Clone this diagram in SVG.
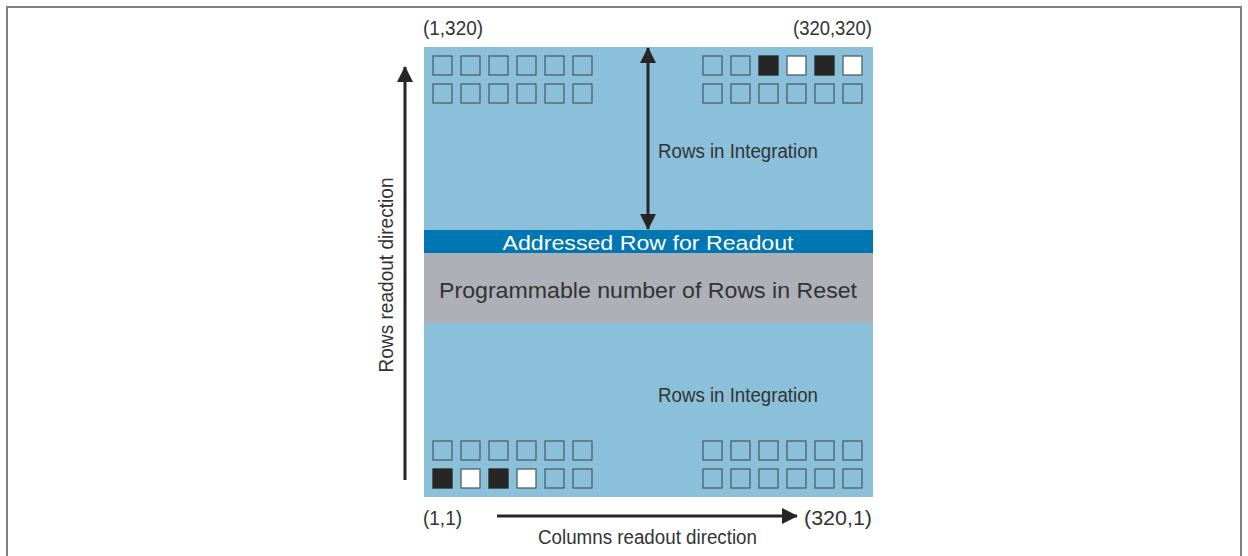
<svg xmlns="http://www.w3.org/2000/svg" width="1248" height="556" viewBox="0 0 1248 556">
<defs>
<style>
.t{font-family:"Liberation Sans",Arial,sans-serif;fill:#333333;}
.px{fill:none;stroke:#4f5f6b;stroke-width:1.3;}
.pb{fill:#262626;stroke:#262626;stroke-width:1.3;}
.pw{fill:#ffffff;stroke:#4f5f6b;stroke-width:1.3;}
.ar{stroke:#262626;stroke-width:3;fill:none;}
</style>
<marker id="ah" viewBox="0 0 16 16" refX="15" refY="8" markerWidth="16" markerHeight="16" markerUnits="userSpaceOnUse" orient="auto-start-reverse">
<path d="M0,0 L16,8 L0,16 Z" fill="#262626"/>
</marker>
</defs>
<rect width="1248" height="556" fill="#ffffff"/>
<path d="M7,556 V7 H1241 V556" fill="none" stroke="#808080" stroke-width="2"/>

<g id="sensor">
<rect x="424" y="47" width="449" height="450" fill="#8BC0DB"/>
</g>
<g id="addressed-row">
<rect x="424" y="230" width="449" height="23" fill="#0077B3"/>
<text class="t" x="648" y="250" font-size="20" text-anchor="middle" style="fill:#ffffff" textLength="291" lengthAdjust="spacingAndGlyphs">Addressed Row for Readout</text>
</g>
<g id="reset-rows">
<rect x="424" y="253" width="449" height="70" fill="#ADB0B6"/>
<text class="t" x="648" y="298" font-size="22" text-anchor="middle" textLength="418" lengthAdjust="spacingAndGlyphs">Programmable number of Rows in Reset</text>
</g>

<g id="pixels-top-left">
<rect class="px" x="433" y="56" width="19" height="19"/>
<rect class="px" x="461" y="56" width="19" height="19"/>
<rect class="px" x="489" y="56" width="19" height="19"/>
<rect class="px" x="517" y="56" width="19" height="19"/>
<rect class="px" x="545" y="56" width="19" height="19"/>
<rect class="px" x="573" y="56" width="19" height="19"/>
<rect class="px" x="433" y="84" width="19" height="19"/>
<rect class="px" x="461" y="84" width="19" height="19"/>
<rect class="px" x="489" y="84" width="19" height="19"/>
<rect class="px" x="517" y="84" width="19" height="19"/>
<rect class="px" x="545" y="84" width="19" height="19"/>
<rect class="px" x="573" y="84" width="19" height="19"/>
</g>
<g id="pixels-top-right">
<rect class="px" x="703" y="56" width="19" height="19"/>
<rect class="px" x="731" y="56" width="19" height="19"/>
<rect class="pb" x="759" y="56" width="19" height="19"/>
<rect class="pw" x="787" y="56" width="19" height="19"/>
<rect class="pb" x="815" y="56" width="19" height="19"/>
<rect class="pw" x="843" y="56" width="19" height="19"/>
<rect class="px" x="703" y="84" width="19" height="19"/>
<rect class="px" x="731" y="84" width="19" height="19"/>
<rect class="px" x="759" y="84" width="19" height="19"/>
<rect class="px" x="787" y="84" width="19" height="19"/>
<rect class="px" x="815" y="84" width="19" height="19"/>
<rect class="px" x="843" y="84" width="19" height="19"/>
</g>
<g id="pixels-bottom-left">
<rect class="px" x="433" y="441" width="19" height="19"/>
<rect class="px" x="461" y="441" width="19" height="19"/>
<rect class="px" x="489" y="441" width="19" height="19"/>
<rect class="px" x="517" y="441" width="19" height="19"/>
<rect class="px" x="545" y="441" width="19" height="19"/>
<rect class="px" x="573" y="441" width="19" height="19"/>
<rect class="pb" x="433" y="469" width="19" height="19"/>
<rect class="pw" x="461" y="469" width="19" height="19"/>
<rect class="pb" x="489" y="469" width="19" height="19"/>
<rect class="pw" x="517" y="469" width="19" height="19"/>
<rect class="px" x="545" y="469" width="19" height="19"/>
<rect class="px" x="573" y="469" width="19" height="19"/>
</g>
<g id="pixels-bottom-right">
<rect class="px" x="703" y="441" width="19" height="19"/>
<rect class="px" x="731" y="441" width="19" height="19"/>
<rect class="px" x="759" y="441" width="19" height="19"/>
<rect class="px" x="787" y="441" width="19" height="19"/>
<rect class="px" x="815" y="441" width="19" height="19"/>
<rect class="px" x="843" y="441" width="19" height="19"/>
<rect class="px" x="703" y="469" width="19" height="19"/>
<rect class="px" x="731" y="469" width="19" height="19"/>
<rect class="px" x="759" y="469" width="19" height="19"/>
<rect class="px" x="787" y="469" width="19" height="19"/>
<rect class="px" x="815" y="469" width="19" height="19"/>
<rect class="px" x="843" y="469" width="19" height="19"/>
</g>

<g id="connectors">
<line class="ar" x1="405" y1="480" x2="405" y2="67" marker-end="url(#ah)"/>
<line class="ar" x1="497" y1="516" x2="797" y2="516" marker-end="url(#ah)"/>
<line class="ar" x1="648" y1="48" x2="648" y2="229" marker-start="url(#ah)" marker-end="url(#ah)"/>
</g>

<g id="labels">
<text class="t" x="423" y="35" font-size="20" textLength="60" lengthAdjust="spacingAndGlyphs">(1,320)</text>
<text class="t" x="793" y="35" font-size="20" textLength="79" lengthAdjust="spacingAndGlyphs">(320,320)</text>
<text class="t" x="423" y="525" font-size="20" textLength="39" lengthAdjust="spacingAndGlyphs">(1,1)</text>
<text class="t" x="804" y="525" font-size="20" textLength="68" lengthAdjust="spacingAndGlyphs">(320,1)</text>
<text class="t" x="538" y="544" font-size="20" textLength="219" lengthAdjust="spacingAndGlyphs">Columns readout direction</text>
<text class="t" x="658" y="158" font-size="20" textLength="160" lengthAdjust="spacingAndGlyphs">Rows in Integration</text>
<text class="t" x="658" y="402" font-size="20" textLength="160" lengthAdjust="spacingAndGlyphs">Rows in Integration</text>
<text class="t" transform="translate(393,275) rotate(-90)" font-size="20" text-anchor="middle" textLength="195" lengthAdjust="spacingAndGlyphs">Rows readout direction</text>
</g>
</svg>
